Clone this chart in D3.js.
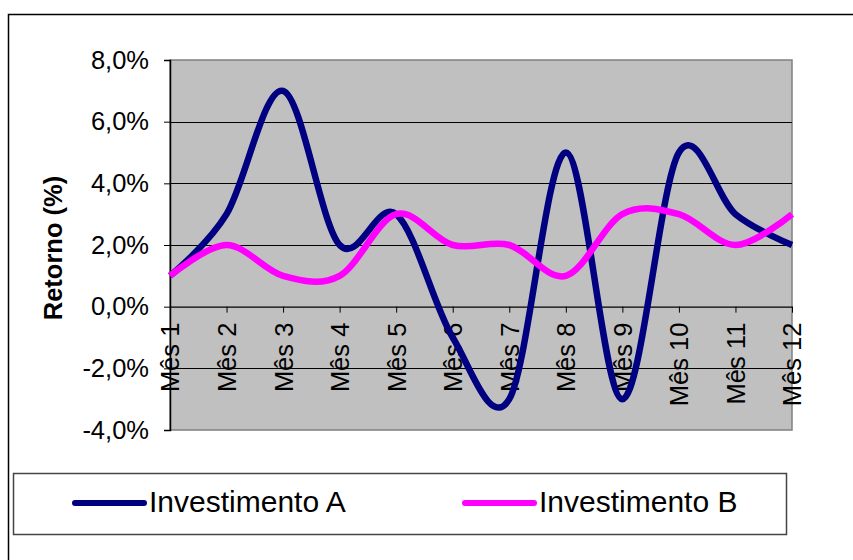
<!DOCTYPE html>
<html>
    <head>
        <meta charset="UTF-8">
        <title>Retorno dos investimentos</title>
        <script src="https://d3js.org/d3.v7.min.js"></script>
        <style>
            body { margin: 0; background: #fff; }
            text { font-family: "Liberation Sans", Arial, sans-serif; fill: #000; }
        </style>
    </head>
    <body>
        <div id="chart"></div>
        <script>
            // data (% return per month)
            var months = ["Mês 1", "Mês 2", "Mês 3", "Mês 4", "Mês 5", "Mês 6",
                          "Mês 7", "Mês 8", "Mês 9", "Mês 10", "Mês 11", "Mês 12"]
            var investA = [1, 3, 7, 2, 3, -1, -3, 5, -3, 5, 3, 2]
            var investB = [1, 2, 1, 1, 3, 2, 2, 1, 3, 3, 2, 3]
            var seriesNames = ["Investimento A", "Investimento B"]
            var yTicks = [-4, -2, 0, 2, 4, 6, 8]

            var width = 853
            var height = 560
            var plot = { left: 170, right: 792, top: 60, bottom: 430 }
            var colors = ["#000080", "#ff00ff"]

            var svg = d3.select("#chart")
                .append("svg")
                    .attr("width", width)
                    .attr("height", height)

            // outer chart border (runs off the right / bottom edge)
            svg.append("rect")
                .attr("x", 8.5).attr("y", 14.5)
                .attr("width", 900).attr("height", 600)
                .attr("fill", "#fff")
                .attr("stroke", "#000")
                .attr("stroke-width", 1.5)

            var x = d3.scalePoint()
                .domain(months)
                .range([plot.left, plot.right])

            var y = d3.scaleLinear()
                .domain([-4, 8])
                .range([plot.bottom, plot.top])

            // grey plot area
            svg.append("rect")
                .attr("x", plot.left).attr("y", plot.top)
                .attr("width", plot.right - plot.left)
                .attr("height", plot.bottom - plot.top)
                .attr("fill", "#c0c0c0")
                .attr("stroke", "#808080")
                .attr("stroke-width", 1.5)

            // y axis
            var yAxis = svg.append("g")
                .attr("transform", "translate(" + plot.left + ",0)")
                .call(d3.axisLeft(y)
                    .tickValues(yTicks)
                    .tickSize(6)
                    .tickPadding(15)
                    .tickFormat(function(d){ return d.toFixed(1).replace(".", ",") + "%" }))
            yAxis.select(".domain").attr("stroke", "#000").attr("stroke-width", 1.5)
            yAxis.selectAll(".tick line").attr("stroke", "#000")
            yAxis.selectAll("text")
                .style("font-size", "25.5px")
                .attr("fill", "#000")

            // x axis sits on 0%
            var xAxis = svg.append("g")
                .attr("transform", "translate(0," + y(0) + ")")
                .call(d3.axisBottom(x).tickSize(6).tickSizeOuter(0))
            xAxis.select(".domain").attr("stroke", "#000").attr("stroke-width", 1.2)
            xAxis.selectAll(".tick line").attr("stroke", "#000")
            xAxis.selectAll("text")
                .style("font-size", "25.5px")
                .attr("fill", "#000")
                .attr("transform", "rotate(-90)")
                .attr("text-anchor", "end")
                .attr("x", -16)
                .attr("y", 0)
                .attr("dy", "0.35em")

            // gridlines drawn over the tick labels, like the original
            svg.append("g")
                .selectAll("line")
                .data(yTicks.filter(function(d){ return d !== -4 && d !== 8 && d !== 0 }))
                .enter()
                .append("line")
                    .attr("x1", plot.left).attr("x2", plot.right)
                    .attr("y1", function(d){ return Math.round(y(d)) + 0.5 })
                    .attr("y2", function(d){ return Math.round(y(d)) + 0.5 })
                    .attr("stroke", "#000")
                    .attr("stroke-width", 1)

            // axis title
            svg.append("text")
                .attr("transform", "translate(62,248) rotate(-90)")
                .attr("text-anchor", "middle")
                .style("font-size", "25.5px")
                .style("font-weight", "bold")
                .text("Retorno (%)")

            // smoothed lines
            var line = d3.line()
                .x(function(d, i){ return x(months[i]) })
                .y(function(d){ return y(d) })
                .curve(d3.curveCatmullRom.alpha(0))

            svg.append("g")
                .selectAll("path")
                .data([investA, investB])
                .enter()
                .append("path")
                    .attr("d", line)
                    .attr("fill", "none")
                    .attr("stroke", function(d, i){ return colors[i] })
                    .attr("stroke-width", 6.5)
                    .attr("stroke-linejoin", "round")

            // legend
            svg.append("rect")
                .attr("x", 13.5).attr("y", 473.5)
                .attr("width", 773).attr("height", 61)
                .attr("fill", "#fff")
                .attr("stroke", "#444")
                .attr("stroke-width", 1.5)

            var legendX = [75, 465]
            var item = svg.append("g")
                .selectAll("g")
                .data(seriesNames)
                .enter()
                .append("g")
                    .attr("transform", function(d, i){ return "translate(" + legendX[i] + ",503)" })
            item.append("line")
                .attr("x1", 0).attr("x2", 69)
                .attr("stroke", function(d, i){ return colors[i] })
                .attr("stroke-width", 6)
                .attr("stroke-linecap", "round")
            item.append("text")
                .attr("x", 74)
                .attr("y", 9)
                .style("font-size", "30px")
                .text(function(d){ return d })
        </script>
    </body>
</html>
